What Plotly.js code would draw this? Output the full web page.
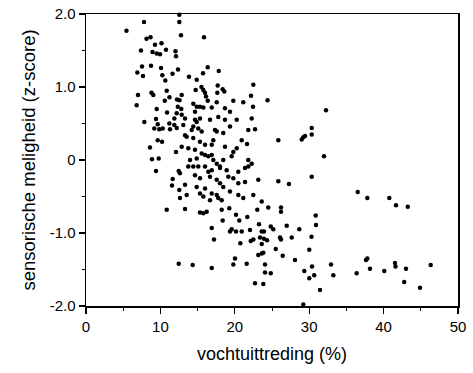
<!DOCTYPE html>
<html>
<head>
<meta charset="utf-8">
<script src="https://cdn.plot.ly/plotly-3.0.1.min.js"></script>
<style>html,body{margin:0;padding:0;background:#fff;}#chart{width:473px;height:373px;}</style>
</head>
<body>
<div id="chart"></div>
<script>
// vochtuittreding (%)
var moistureLoss = [
5.44,7.80,12.54,12.54,12.77,15.86,8.13,8.67,9.27,10.15,7.39,8.94,9.50,9.95,10.75,12.03,12.10,7.53,8.74,10.08,
12.37,16.36,17.84,6.90,7.66,10.26,11.63,15.73,13.84,10.66,14.88,15.52,15.77,15.99,17.70,18.37,18.59,17.65,22.49,6.99,
8.80,9.05,10.85,14.74,12.86,11.22,10.59,12.23,12.57,16.13,16.36,22.18,24.40,19.80,21.14,6.81,9.50,12.34,12.81,14.42,
14.88,15.32,15.77,16.90,17.57,18.68,22.45,32.26,
10.89,7.84,9.41,9.64,9.18,9.85,10.31,11.20,11.29,11.87,11.87,12.19,9.64,10.22,8.60,12.10,8.87,9.77,9.41,12.46,
11.65,11.56,12.54,12.63,12.19,
12.86,13.31,14.65,14.88,15.32,16.67,17.78,18.68,20.26,22.27,14.65,19.35,13.08,14.21,14.42,15.09,15.55,17.34,17.57,18.45,
19.35,21.81,22.72,13.31,13.53,14.42,15.32,16.00,16.90,17.11,18.68,19.80,20.26,20.93,21.64,13.75,14.65,25.85,12.86,15.55,
16.00,16.44,16.90,17.11,17.57,18.01,18.45,19.58,21.81,22.27,13.98,14.88,13.75,14.42,15.09,16.00,16.44,16.90,18.01,18.91,
20.47,21.37,21.81,12.63,14.65,15.32,16.67,17.57,18.01,18.45,19.13,19.80,20.47,21.37,23.16,25.85,13.31,14.88,16.00,13.53,
15.32,15.77,16.90,17.57,17.78,18.24,19.35,20.47,21.14,22.49,23.62,16.67,
10.85,12.46,
13.31,15.32,15.77,16.22,16.90,17.20,18.37,18.24,19.26,20.16,20.60,19.35,19.58,20.16,20.93,21.68,22.04,23.02,24.50,23.25,
23.62,23.92,24.83,25.17,23.39,23.92,24.33,20.74,22.14,22.49,23.62,25.50,23.16,23.62,23.83,20.03,19.80,21.60,24.06,14.34,
16.90,24.06,24.83,22.72,23.83,
30.34,30.34,28.99,29.21,29.44,31.99,27.28,30.34,36.52,37.81,40.77,41.67,43.25,26.21,26.21,30.87,30.91,26.98,28.67,26.08,
26.21,27.65,30.31,26.44,30.01,28.09,29.34,30.38,30.67,30.01,31.45,32.93,33.24,36.38,37.63,37.81,38.17,40.09,41.53,41.60,
43.01,42.77,44.89,46.33,29.21
];
// sensorische meligheid (z-score)
var mealiness = [
1.77,1.89,1.99,1.89,1.71,1.68,1.66,1.68,1.58,1.60,1.50,1.48,1.46,1.45,1.51,1.49,1.42,1.28,1.29,1.26,
1.24,1.27,1.22,1.20,1.15,1.16,1.18,1.19,1.14,1.09,1.10,1.00,0.96,0.92,1.02,0.97,0.94,0.92,1.03,0.89,
0.92,0.89,0.95,0.96,0.89,0.86,0.81,0.83,0.82,0.87,0.81,0.88,0.82,0.81,0.79,0.75,0.70,0.73,0.70,0.77,
0.73,0.73,0.72,0.72,0.79,0.71,0.73,0.68,
0.65,0.52,0.56,0.49,0.43,0.42,0.43,0.50,0.42,0.57,0.48,0.44,0.27,0.25,0.17,0.11,0.01,0.02,-0.15,-0.15,
-0.26,-0.35,-0.41,-0.52,0.64,
0.62,0.57,0.55,0.52,0.57,0.55,0.59,0.55,0.55,0.57,0.66,0.66,0.48,0.41,0.46,0.43,0.39,0.41,0.39,0.37,
0.46,0.41,0.42,0.34,0.32,0.30,0.25,0.21,0.21,0.27,0.18,0.11,0.16,0.27,0.22,0.16,0.14,0.27,0.18,0.09,
0.07,0.05,0.07,0.00,-0.05,-0.09,0.00,0.05,0.00,-0.05,0.00,0.02,-0.09,-0.09,-0.09,-0.09,-0.16,-0.14,-0.11,-0.14,
-0.16,-0.11,-0.09,-0.18,-0.21,-0.25,-0.23,-0.27,-0.32,-0.37,-0.23,-0.25,-0.32,-0.30,-0.27,-0.29,-0.34,-0.37,-0.39,-0.48,
-0.46,-0.50,-0.46,-0.48,-0.52,-0.55,-0.43,-0.48,-0.52,-0.48,-0.57,-0.55,
-0.68,-1.42,
-0.67,-0.72,-0.73,-0.71,-0.93,-1.09,-0.83,-0.68,-0.66,-0.75,-0.83,-0.98,-0.95,-0.98,-0.98,-0.78,-0.96,-0.68,-0.65,-0.88,
-0.98,-0.98,-0.91,-0.95,-1.06,-1.08,-1.10,-1.14,-1.11,-1.09,-1.15,-1.22,-1.30,-1.28,-1.27,-1.35,-1.43,-1.42,-1.43,-1.44,
-1.48,-1.54,-1.55,-1.69,-1.70,
0.44,0.35,0.28,0.31,0.33,0.05,-0.33,-0.23,-0.44,-0.52,-0.52,-0.62,-0.64,-0.65,-0.71,-0.76,-0.89,-0.90,-0.95,-1.06,
-1.09,-1.06,-1.05,-1.31,-1.23,-1.37,-1.52,-1.46,-1.58,-1.62,-1.78,-1.43,-1.58,-1.55,-1.37,-1.35,-1.49,-1.52,-1.41,-1.46,
-1.49,-1.67,-1.75,-1.44,-1.98
];
var xTicks = [0, 10, 20, 30, 40, 50];
var xTickText = ['0', '10', '20', '30', '40', '50'];
var yTicks = [-2, -1, 0, 1, 2];
var yTickText = ['-2.0', '-1.0', '0', '1.0', '2.0'];

var fontFam = 'Liberation Sans, Arial, Helvetica, sans-serif';
var trace = {
  x: moistureLoss, y: mealiness, type: 'scatter', mode: 'markers',
  marker: {color: '#000', size: 4.5, line: {width: 0}},
  cliponaxis: false, hoverinfo: 'skip'
};
var layout = {
  width: 473, height: 373,
  margin: {l: 86, r: 15, t: 14, b: 67},
  paper_bgcolor: '#fff', plot_bgcolor: '#fff',
  showlegend: false,
  font: {family: fontFam, color: '#000', size: 15},
  xaxis: {
    range: [0, 50], tickvals: xTicks, ticktext: xTickText,
    showgrid: false, zeroline: false, showline: true, linecolor: '#000', linewidth: 1.5,
    mirror: true, ticks: 'outside', ticklen: 6, tickwidth: 1.2, tickcolor: '#000',
    minor: {dtick: 5, tick0: 0, ticks: 'outside', ticklen: 3, tickwidth: 1, tickcolor: '#000', showgrid: false},
    tickfont: {size: 15, family: fontFam},
    title: {text: 'vochtuittreding (%)', font: {size: 18, family: fontFam}, standoff: 14},
    automargin: false
  },
  yaxis: {
    range: [-2, 2], tickvals: yTicks, ticktext: yTickText,
    showgrid: false, zeroline: false, showline: true, linecolor: '#000', linewidth: 1.5,
    mirror: true, ticks: 'outside', ticklen: 6, tickwidth: 1.2, tickcolor: '#000',
    minor: {dtick: 0.5, tick0: 0, ticks: 'outside', ticklen: 3, tickwidth: 1, tickcolor: '#000', showgrid: false},
    tickfont: {size: 15, family: fontFam},
    title: {text: 'sensorische meligheid (z-score)', font: {size: 18.5, family: fontFam}, standoff: 9},
    automargin: false
  }
};
Plotly.newPlot('chart', [trace], layout, {staticPlot: true, displayModeBar: false});
</script>
</body>
</html>
